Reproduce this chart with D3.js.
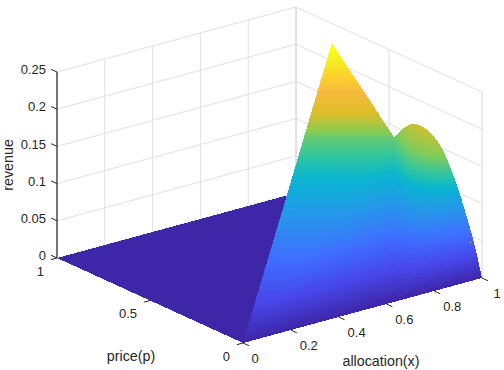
<!DOCTYPE html>
<html>
<head>
<meta charset="utf-8">
<style>
html,body{margin:0;padding:0;background:#fff;}
text{font-family:"Liberation Sans",Arial,sans-serif;fill:#262626;}
</style>
<script src="https://cdn.jsdelivr.net/npm/d3@7"></script>
</head>
<body>
<svg id="chart" width="504" height="370">
  <defs><filter id="soft" x="-5%" y="-5%" width="110%" height="110%"><feGaussianBlur stdDeviation="0.5"/></filter></defs>
</svg>
<script>
// tick labels
var xTicks = [0,0.2,0.4,0.6,0.8,1];
var pTicks = [0,0.5,1];
var zTicks = [0,0.05,0.1,0.15,0.2,0.25];

// back sheet: each band runs from the left ridge to the crease / back edge
var bandLeftAlloc = [0,0.279,0.559,0.766,0.761,0.793,0.887];
var bandLeftPrice = [0,0.239,0.479,0.656,0.62,0.608,0.662];
var bandRightAlloc = [0,0.364,0.728,1,0.95,0.898,0.887];
var bandRightPrice = [0,0.172,0.344,0.473,0.476,0.527,0.662];
var bandRevenue = [0,0.049,0.098,0.135,0.165,0.208,0.25];

// front sheet: each strip runs from the p=0 edge up to the crease or the hump at x=1
var stripBaseAlloc = [0,0.126,0.251,0.377,0.502,0.574,0.632,0.655,0.678,0.701,0.724,0.747,0.77,0.793,0.816,0.839,0.862,0.885,0.908,0.931,0.954,0.977,1];
var stripTopAlloc = [0,0.2,0.4,0.6,0.8,0.91,1,1,1,1,1,1,1,1,1,1,1,1,1,1,1,1,1];
var stripTopPrice = [0,0.095,0.189,0.284,0.378,0.43,0.473,0.443,0.414,0.384,0.355,0.325,0.296,0.266,0.237,0.207,0.177,0.148,0.118,0.089,0.059,0.03,0];
var stripTopRevenue = [0,0.027,0.054,0.081,0.108,0.123,0.135,0.146,0.1555,0.1625,0.1665,0.167,0.1655,0.162,0.156,0.147,0.133,0.117,0.099,0.078,0.056,0.031,0];
// revenue three quarters of the way up each strip
var stripKneeRevenue = [0,0.02,0.041,0.063,0.084,0.097,0.107,0.114,0.12,0.125,0.128,0.129,0.128,0.124,0.118,0.11,0.1,0.088,0.074,0.058,0.042,0.023,0];
var kneeAt = 0.75;

// parula colormap samples
var parulaStops = ["#3e26a8","#4747eb","#3e6fff","#2796eb","#08b5d0","#31c69f","#81cc59","#dcbd29","#f8ba3d","#fccf30","#f5e924","#f9fb15"];
var parulaDomain = [0,0.111,0.222,0.33,0.43,0.49,0.565,0.685,0.80,0.86,0.92,0.97];

// screen offsets of each data axis, the front corner is x=0,p=0,z=0 at (243,343)
var xToLeft = d3.scaleLinear().domain([0,1]).range([243,482]);
var xToTop = d3.scaleLinear().domain([0,1]).range([0,-65]);
var pToLeft = d3.scaleLinear().domain([0,1]).range([0,-186]);
var pToTop = d3.scaleLinear().domain([0,1]).range([343,258]);
var zToTop = d3.scaleLinear().domain([0,0.25]).range([0,-186]);
var colorScale = d3.scaleLinear().domain(parulaDomain.map(function(d){return d*0.25;})).range(parulaStops).clamp(true);

function project(x,p,z){
    return [xToLeft(x)+pToLeft(p), pToTop(p)+xToTop(x)+zToTop(z)];
}

var svg = d3.select("#chart");
var drawLine = d3.line();

/**
 * 画一条三维折线
 */
function line3d(parent,pts,color,width){
    parent.append("path")
        .attr("d",drawLine(pts.map(function(d){return project(d[0],d[1],d[2]);})))
        .attr("fill","none")
        .attr("stroke",color)
        .attr("stroke-width",width);
}

// back walls
var grid = svg.append("g");
xTicks.forEach(function(x){
    line3d(grid,[[x,1,0],[x,1,0.25]],x==1?"#c4c4c4":"#e0e0e0",1);
});
line3d(grid,[[1,0.5,0],[1,0.5,0.25]],"#dcdcdc",1);
line3d(grid,[[1,0,0],[1,0,0.25]],"#d6d6d6",1);
zTicks.forEach(function(z){
    line3d(grid,[[0,1,z],[1,1,z],[1,0,z]],"#e0e0e0",1);
});

// floor, revenue is zero above the ridge
var surface = svg.append("g").attr("filter","url(#soft)").attr("shape-rendering","crispEdges");
surface.append("path")
    .attr("d",drawLine([[0,0],[1,0],[1,1],[0,1]].map(function(d){return project(d[0],d[1],0);}))+"Z")
    .attr("fill",colorScale(0));

/**
 * 把一格四个角细分后按高度上色
 */
function drawCell(c00,c01,c10,c11,nv){
    var s0 = project(c00[0],c00[1],c00[2]), s1 = project(c10[0],c10[1],c10[2]);
    var s2 = project(c01[0],c01[1],c01[2]), s3 = project(c11[0],c11[1],c11[2]);
    var span = Math.max(Math.hypot(s1[0]-s0[0],s1[1]-s0[1]),Math.hypot(s3[0]-s2[0],s3[1]-s2[1]));
    var nu = Math.max(2,Math.ceil(span/1.5));
    function corner(u,v){
        return [0,1,2].map(function(k){
            return (1-u)*(1-v)*c00[k]+(1-u)*v*c01[k]+u*(1-v)*c10[k]+u*v*c11[k];
        });
    }
    for(var i=0;i<nu;i++){
        for(var j=0;j<nv;j++){
            var a = corner(i/nu,j/nv), b = corner(i/nu,(j+1)/nv);
            var c = corner((i+1)/nu,(j+1)/nv), d = corner((i+1)/nu,j/nv);
            surface.append("path")
                .attr("d",drawLine([a,b,c,d].map(function(q){return project(q[0],q[1],q[2]);}))+"Z")
                .attr("fill",colorScale((a[2]+b[2]+c[2]+d[2])/4));
        }
    }
}

// back sheet
bandRevenue.slice(1).forEach(function(z,i){
    drawCell([bandLeftAlloc[i],bandLeftPrice[i],bandRevenue[i]],
        [bandRightAlloc[i],bandRightPrice[i],bandRevenue[i]],
        [bandLeftAlloc[i+1],bandLeftPrice[i+1],z],
        [bandRightAlloc[i+1],bandRightPrice[i+1],z],20);
});

// front sheet, two pieces per strip with the knee between them
function stripKnee(i){
    return [stripBaseAlloc[i]+kneeAt*(stripTopAlloc[i]-stripBaseAlloc[i]),kneeAt*stripTopPrice[i],stripKneeRevenue[i]];
}
stripTopRevenue.slice(1).forEach(function(z,i){
    drawCell([stripBaseAlloc[i],0,0],stripKnee(i),[stripBaseAlloc[i+1],0,0],stripKnee(i+1),30);
    drawCell(stripKnee(i),
        [stripTopAlloc[i],stripTopPrice[i],stripTopRevenue[i]],
        stripKnee(i+1),
        [stripTopAlloc[i+1],stripTopPrice[i+1],z],12);
});

// axes
var axes = svg.append("g");
line3d(axes,[[0,1,0],[0,1,0.25]],"#262626",1.2);
var tickLen = 0.032;
zTicks.forEach(function(z){
    line3d(axes,[[0,1,z],[0,1+tickLen,z]],"#262626",1);
});
pTicks.forEach(function(p){
    line3d(axes,[[0,p,0],[-tickLen*0.8,p,0]],"#262626",1);
});
xTicks.forEach(function(x){
    line3d(axes,[[x,0,0],[x,-tickLen,0]],"#262626",1);
});

// tick labels
axes.selectAll("text.z").data(zTicks).enter().append("text")
    .attr("x",46)
    .attr("y",function(d){return project(0,1,d)[1]-2.5+4.6;})
    .attr("text-anchor","end")
    .attr("font-size",13)
    .text(function(d){return d;});
axes.selectAll("text.p").data(pTicks).enter().append("text")
    .attr("x",function(d){return project(0,d,0)[0]-13;})
    .attr("y",function(d){return project(0,d,0)[1]+13+4.6;})
    .attr("text-anchor","end")
    .attr("font-size",13)
    .text(function(d){return d;});
axes.selectAll("text.x").data(xTicks).enter().append("text")
    .attr("x",function(d){return project(d,0,0)[0]+(d==0?12:d==1?15:18);})
    .attr("y",function(d){return project(d,0,0)[1]+15+4.6;})
    .attr("text-anchor","middle")
    .attr("font-size",13)
    .text(function(d){return d;});

// axis titles
svg.append("text").attr("x",381).attr("y",366).attr("text-anchor","middle").attr("font-size",14.3).text("allocation(x)");
svg.append("text").attr("x",131).attr("y",361).attr("text-anchor","middle").attr("font-size",14.3).text("price(p)");
svg.append("text").attr("transform","translate(13,165) rotate(-90)").attr("text-anchor","middle").attr("font-size",14.3).text("revenue");
</script>
</body>
</html>
